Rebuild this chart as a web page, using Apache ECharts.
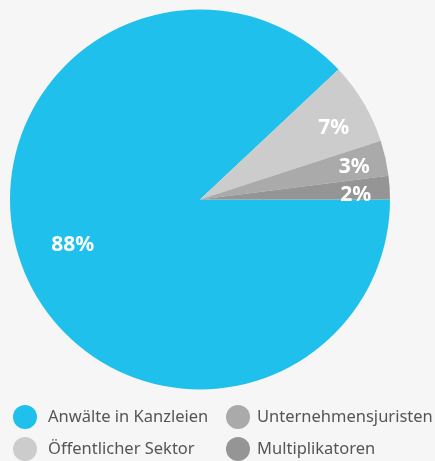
<!DOCTYPE html>
<html>
<head>
<meta charset="UTF-8">
<title>Anteile</title>
<script src="https://cdn.jsdelivr.net/npm/echarts@6/dist/echarts.min.js"></script>
<style>
html, body {margin:0; padding:0; background:#f6f6f6;}
#chart {width:435px; height:461px;}
</style>
</head>
<body>
<div id="chart"></div>
<script>
var names = ['Anwälte in Kanzleien', 'Öffentlicher Sektor', 'Unternehmensjuristen', 'Multiplikatoren'];
var values = [88, 7, 3, 2];
var colors = ['#1fc0eb', '#cccccc', '#aaaaaa', '#959595'];

var leftColumn = ['Anwälte in Kanzleien', 'Öffentlicher Sektor'];
var rightColumn = ['Unternehmensjuristen', 'Multiplikatoren'];

// small nudges so the labels sit where the original puts them
var labelNudge = [[14, -10], [3, 6], [6, 1], [4, 5]];

var pieData = names.map(function (n, i) {
    return {name: n, value: values[i], itemStyle: {color: colors[i]}};
});

var chart = echarts.init(document.getElementById('chart'), null, {renderer: 'canvas'});

function makeLegend(left, data, gap) {
    return {
        orient: 'vertical',
        left: left,
        top: 405,
        padding: 0,
        icon: 'circle',
        itemWidth: 24,
        itemHeight: 24,
        itemGap: 8,
        selectedMode: false,
        data: data,
        textStyle: {
            fontFamily: 'Noto Sans',
            fontSize: 16.5,
            color: '#555',
            padding: [0, 0, 0, gap]
        }
    };
}

var option = {
    backgroundColor: '#f6f6f6',
    animation: false,
    legend: [makeLegend(13, leftColumn, 6), makeLegend(226, rightColumn, 2)],
    series: [{
        // the slices
        type: 'pie',
        center: [200, 199.5],
        radius: [0, 190],
        startAngle: 0,
        clockwise: true,
        label: {show: false},
        labelLine: {show: false},
        emphasis: {disabled: true},
        data: pieData
    }, {
        // percentage labels, placed on a transparent ring
        type: 'pie',
        silent: true,
        center: [200, 199.5],
        radius: [108, 190],
        startAngle: 0,
        clockwise: true,
        itemStyle: {color: 'transparent'},
        label: {
            show: true,
            position: 'inside',
            formatter: '{c}%',
            color: '#fff',
            fontFamily: 'Noto Sans',
            fontWeight: 'bold',
            fontSize: 21
        },
        labelLine: {show: false},
        emphasis: {disabled: true},
        data: names.map(function (n, i) {
            return {name: n, value: values[i], label: {offset: labelNudge[i]}};
        })
    }]
};

chart.setOption(option);
</script>
</body>
</html>
